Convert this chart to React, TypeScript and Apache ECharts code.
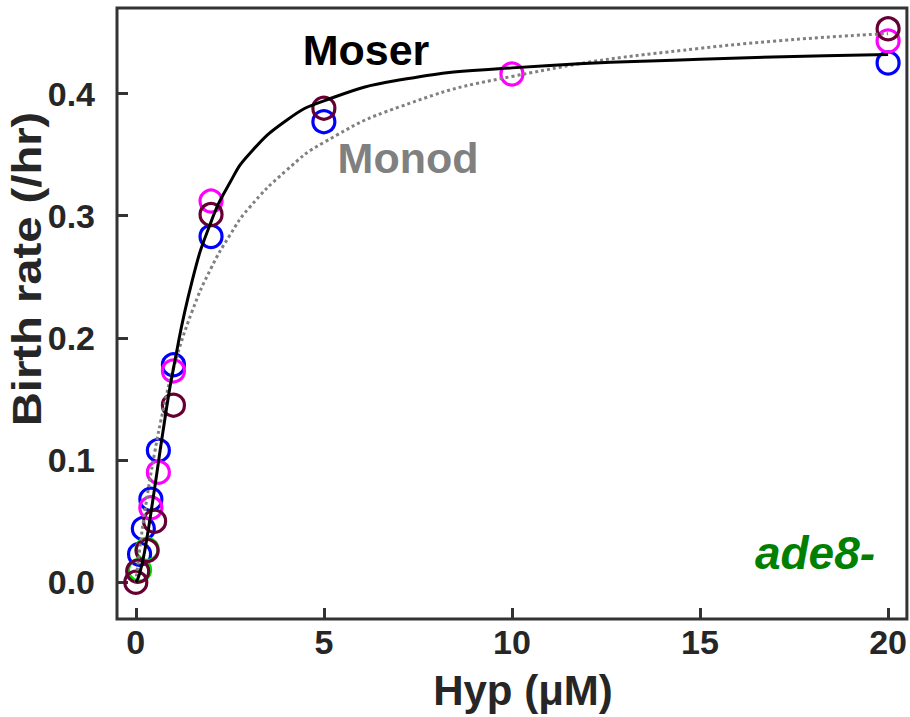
import React, { useEffect, useRef } from "react";
import * as echarts from "echarts";

const xTicks = [0, 5, 10, 15, 20];
const yTicks = [0, 0.1, 0.2, 0.3, 0.4];

const bluePts = [[0.1, 0.023], [0.2, 0.044], [0.4, 0.068], [0.6, 0.108], [1, 0.178], [2, 0.283], [5, 0.377], [20, 0.425]];
const magentaPts = [[0.4, 0.061], [0.6, 0.09], [1, 0.173], [2, 0.312], [10, 0.416], [20, 0.443]];
const greenPts = [[0.1, 0.01], [0.3, 0.027]];
const maroonPts = [[0, 0.0], [0.05, 0.009], [0.3, 0.026], [0.5, 0.05], [1, 0.145], [2, 0.301], [5, 0.388], [20, 0.453]];

const curveX = [0, 0.1, 0.25, 0.5, 0.75, 1, 1.5, 2, 2.5, 3, 4, 5, 7, 10, 15, 20];
const moserY = [0, 0.007, 0.028, 0.077, 0.129, 0.175, 0.247, 0.295, 0.327, 0.35, 0.378, 0.394, 0.411, 0.421, 0.428, 0.432];
const monodY = [0, 0.026, 0.06, 0.106, 0.144, 0.175, 0.222, 0.257, 0.284, 0.306, 0.337, 0.36, 0.389, 0.414, 0.437, 0.449];

const FONT = "'Liberation Sans', Arial, sans-serif";

export default function App() {
  const ref = useRef<HTMLDivElement>(null);
  useEffect(() => {
    document.body.style.margin = "0";
    const chart = echarts.init(ref.current!, null, { renderer: "svg" });
    const scatter = (name: string, data: number[][], color: string) => ({
      name,
      type: "scatter",
      data,
      symbol: "circle",
      symbolSize: 22,
      itemStyle: { color: "rgba(0,0,0,0)", borderColor: color, borderWidth: 3.2, opacity: 1 },
      z: 2,
    });
    chart.setOption({
      animation: false,
      backgroundColor: "#ffffff",
      grid: { left: 117, right: 3, top: 8, bottom: 98, show: true, borderColor: "#333333", borderWidth: 3, backgroundColor: "transparent" },
      xAxis: {
        type: "value",
        min: -0.5,
        max: 20.5,
        splitLine: { show: false },
        axisLine: { show: false, onZero: false },
        axisTick: { show: true, inside: true, length: 11, lineStyle: { color: "#333333", width: 3 }, customValues: xTicks },
        axisLabel: { customValues: xTicks, fontSize: 34, fontWeight: "bold", fontFamily: FONT, color: "#262626", margin: 6 },
      },
      yAxis: {
        type: "value",
        min: -0.03,
        max: 0.47,
        splitLine: { show: false },
        axisLine: { show: false, onZero: false },
        axisTick: { show: true, inside: true, length: 11, lineStyle: { color: "#333333", width: 3 }, customValues: yTicks },
        axisLabel: {
          customValues: yTicks,
          formatter: (v: number) => v.toFixed(1),
          fontSize: 34,
          fontWeight: "bold",
          fontFamily: FONT,
          color: "#262626",
          margin: 22,
        },
      },
      series: [
        scatter("blue", bluePts, "#0000ff"),
        scatter("magenta", magentaPts, "#ff00ff"),
        scatter("green", greenPts, "#00e000"),
        scatter("maroon", maroonPts, "#660033"),
        {
          name: "Monod",
          type: "line",
          data: curveX.map((x, i) => [x, monodY[i]]),
          showSymbol: false,
          smooth: 0.5,
          lineStyle: { color: "#808080", width: 3, type: [3, 3] },
          z: 3,
        },
        {
          name: "Moser",
          type: "line",
          data: curveX.map((x, i) => [x, moserY[i]]),
          showSymbol: false,
          smooth: 0.5,
          lineStyle: { color: "#000000", width: 3 },
          z: 4,
        },
      ],
      graphic: [
        { type: "text", x: 366, y: 50, style: { text: "Moser", fill: "#000000", font: `bold 43px ${FONT}`, textAlign: "center", textVerticalAlign: "middle" } },
        { type: "text", x: 408, y: 158, style: { text: "Monod", fill: "#808080", font: `bold 43px ${FONT}`, textAlign: "center", textVerticalAlign: "middle" } },
        { type: "text", x: 815, y: 553, style: { text: "ade8-", fill: "#008000", font: `italic bold 46px ${FONT}`, textAlign: "center", textVerticalAlign: "middle" } },
        { type: "text", x: 523, y: 690, style: { text: "Hyp (μM)", fill: "#262626", font: `bold 42px ${FONT}`, textAlign: "center", textVerticalAlign: "middle" } },
        { type: "text", x: 27, y: 269, rotation: Math.PI / 2, scaleX: 1.18, style: { text: "Birth rate (/hr)", fill: "#262626", font: `bold 40px ${FONT}`, textAlign: "center", textVerticalAlign: "middle" } },
      ],
    });
    return () => chart.dispose();
  }, []);
  return <div ref={ref} style={{ width: 910, height: 717 }} />;
}
